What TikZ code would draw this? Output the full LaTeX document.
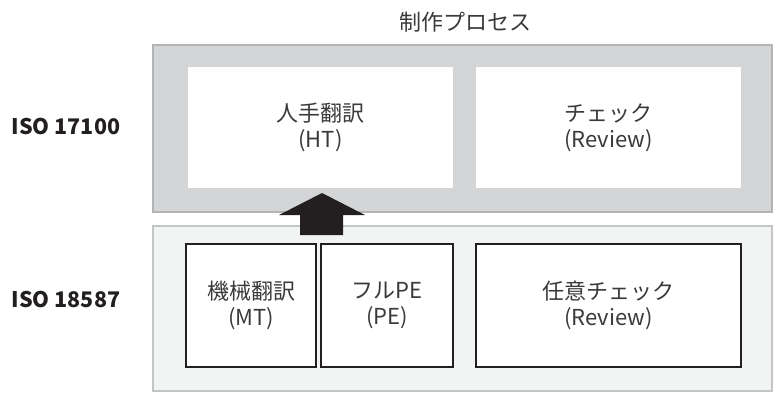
\documentclass[tikz,border=0pt]{standalone}
\usepackage{fontspec}
\setmainfont{Noto Sans CJK JP}
\usetikzlibrary{positioning}
\definecolor{topfill}{HTML}{D4D5D7}
\definecolor{topline}{HTML}{B3B4B6}
\definecolor{botfill}{HTML}{F2F3F3}
\definecolor{botline}{HTML}{C4C5C6}
\definecolor{txt}{HTML}{3A3A3A}
\definecolor{dark}{HTML}{231F20}
\tikzset{
  every node/.style={inner sep=0pt, outer sep=0pt},
  label/.style={text=txt, align=center, font=\fontsize{22}{26}\selectfont},
  whitebox/.style={label, fill=white, anchor=north west},
  framedbox/.style={whitebox, draw=dark, line width=1.1pt},
  isolabel/.style={text=dark, font=\fontsize{21.5}{24}\selectfont\bfseries},
  bigarrow/.style={fill=dark, draw=none}
}
\begin{document}
\begin{tikzpicture}[x=1pt, y=-1pt]
\useasboundingbox (0,0) rectangle (773,392);
% group backgrounds
\node[fill=topfill, draw=topline, line width=1.5pt, anchor=north west,
      minimum width=619pt, minimum height=167pt] (top) at (153,45) {};
\node[fill=botfill, draw=botline, line width=1.2pt, anchor=north west,
      minimum width=619pt, minimum height=165pt] (bot) at (153,226) {};
% title
\node[label] (title) at (465,22) {制作プロセス};
% ISO labels
\node[isolabel] (iso1) at (66,126) {ISO 17100};
\node[isolabel] (iso2) at (66,299) {ISO 18587};
% top boxes
\node[whitebox, minimum width=265pt, minimum height=121pt] (ht) at (188,67) {人手翻訳\\(HT)};
\node[whitebox, minimum width=265pt, minimum height=121pt] (chk) at (476,67) {チェック\\(Review)};
% bottom boxes
\node[framedbox, minimum width=130pt, minimum height=123pt] (mt) at (186,244) {機械翻訳\\(MT)};
\node[framedbox, minimum width=132pt, minimum height=123pt] (pe) at (321,244) {フルPE\\(PE)};
\node[framedbox, minimum width=265pt, minimum height=123pt] (rev) at (476,244) {任意チェック\\(Review)};
% block arrow from bottom group to HT
\coordinate (tip) at (322,193);
\fill[bigarrow] (tip) -- (365,215) -- (343,215) -- (343,235) -- (300,235) -- (300,215) -- (279,215) -- cycle;
\end{tikzpicture}
\end{document}
